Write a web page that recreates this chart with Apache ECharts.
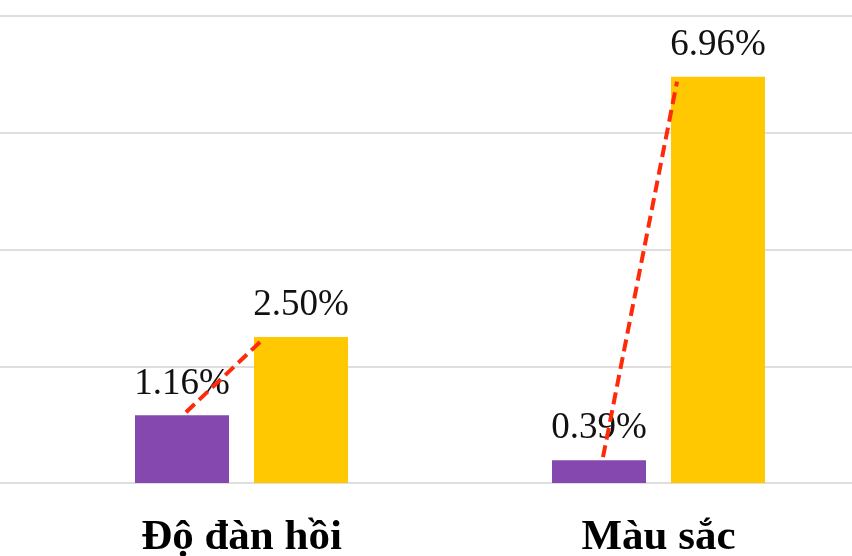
<!DOCTYPE html>
<html>
<head>
<meta charset="utf-8">
<script src="https://cdn.jsdelivr.net/npm/echarts@6/dist/echarts.min.js"></script>
<style>html,body{margin:0;padding:0;background:#fff;overflow:hidden;}#c{width:867px;height:556px;}</style>
</head>
<body>
<div id="c"></div>
<script>
var categories = ['Độ đàn hồi', 'Màu sắc'];
var purpleValues = [1.16, 0.39];
var yellowValues = [2.50, 6.96];
var yTicks = [0, 2, 4, 6, 8];

var BAR_W = 94, GAP = 25;
var chart = echarts.init(document.getElementById('c'));
var labelStyle = {
  show: true, position: 'top', distance: 13,
  fontFamily: 'Liberation Serif', fontSize: 37, color: '#111',
  formatter: function (p) { return p.value.toFixed(2) + '%'; }
};
chart.setOption({
  animation: false,
  grid: [
    { left: 33, right: 0, top: 16, bottom: 73, outerBoundsMode: 'none', containLabel: false },
    { left: 0, right: 15, top: 16, bottom: 73, outerBoundsMode: 'none', containLabel: false }
  ],
  xAxis: [
    { type: 'category', data: categories, gridIndex: 0,
      axisLine: { show: false }, axisTick: { show: false },
      axisLabel: { margin: 33, fontFamily: 'Liberation Serif', fontWeight: 'bold', fontSize: 43, color: '#000' } },
    { type: 'value', gridIndex: 1, show: false, min: 0, max: 1 }
  ],
  yAxis: [
    { type: 'value', gridIndex: 0, min: yTicks[0], max: yTicks[yTicks.length - 1], interval: 2,
      axisLabel: { show: false }, axisLine: { show: false }, axisTick: { show: false },
      splitLine: { show: false } },
    { type: 'value', gridIndex: 1, min: yTicks[0], max: yTicks[yTicks.length - 1], interval: 2,
      axisLabel: { show: false }, axisLine: { show: false }, axisTick: { show: false },
      splitLine: { show: true, lineStyle: { color: '#dedede', width: 2 } } }
  ],
  series: [
    { type: 'bar', data: purpleValues, barWidth: BAR_W, barGap: (GAP / BAR_W * 100) + '%',
      itemStyle: { color: '#8548AE' }, label: labelStyle },
    { type: 'bar', data: yellowValues, barWidth: BAR_W,
      itemStyle: { color: '#FFC800' }, label: labelStyle },
    { type: 'custom', z: 10,
      data: categories.map(function (c, i) { return [i, purpleValues[i], yellowValues[i]]; }),
      renderItem: function (params, api) {
        var p = api.coord([api.value(0), api.value(1)]);
        var q = api.coord([api.value(0), api.value(2)]);
        var x1 = p[0] - (BAR_W + GAP) / 2 + 4;
        var y1 = p[1] - 3;
        var x2 = q[0] + GAP / 2 + 6;
        var y2 = q[1] + 5;
        return { type: 'line', shape: { x1: x1, y1: y1, x2: x2, y2: y2 },
          style: { stroke: '#FF2A0A', lineWidth: 4, lineDash: [12, 6] } };
      } }
  ]
});
</script>
</body>
</html>
